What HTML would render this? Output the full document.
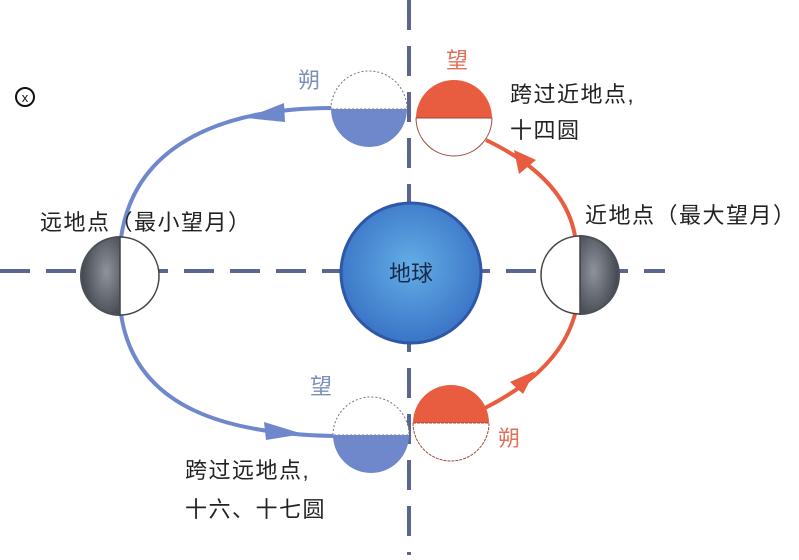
<!DOCTYPE html>
<html><head><meta charset="utf-8"><style>
html,body{margin:0;padding:0;background:#fff;}
svg text{font-family:"Liberation Sans","Noto Sans CJK SC",sans-serif;}
</style></head><body>
<svg width="799" height="555" viewBox="0 0 799 555" xmlns="http://www.w3.org/2000/svg">
<defs>
<radialGradient id="earth" cx="50%" cy="45%" r="55%">
<stop offset="0" stop-color="#63aee6"/><stop offset="1" stop-color="#3a74c6"/>
</radialGradient>
<radialGradient id="grayL" cx="65%" cy="45%" r="60%">
<stop offset="0" stop-color="#8e949c"/><stop offset="1" stop-color="#474c54"/>
</radialGradient>
<radialGradient id="grayR" cx="35%" cy="45%" r="60%">
<stop offset="0" stop-color="#8e949c"/><stop offset="1" stop-color="#474c54"/>
</radialGradient>
</defs>
<line x1="409" y1="0" x2="409" y2="555" stroke="#5a6590" stroke-width="4" stroke-dasharray="30,16"/>
<line x1="0" y1="271" x2="665" y2="271" stroke="#5a6590" stroke-width="4" stroke-dasharray="30,16"/>
<path d="M332,108 C230,108 135,140 121,238" fill="none" stroke="#6f88cc" stroke-width="4"/>
<path d="M121,314 C135,410 230,434 334,436" fill="none" stroke="#6f88cc" stroke-width="4"/>
<polygon points="246,118 284,103 285,122" fill="#6f88cc"/>
<polygon points="303,434 264,422 266,440" fill="#6f88cc"/>
<path d="M486,140 Q565,178 575,236" fill="none" stroke="#e85c3f" stroke-width="4"/>
<path d="M485,408 Q560,370 575,314" fill="none" stroke="#e85c3f" stroke-width="4"/>
<polygon points="514,150 519,174 536,160" fill="#e85c3f"/>
<polygon points="535,371 510,382 523,394" fill="#e85c3f"/>
<circle cx="411" cy="273" r="70" fill="url(#earth)" stroke="#2f57a8" stroke-width="3"/>
<text x="411" y="281" font-size="22" text-anchor="middle" fill="#1a2a4a">地球</text>
<path d="M331,109 A38,38 0 0 1 407,109 Z" fill="#fff" stroke="#777" stroke-width="1" stroke-dasharray="2,2"/>
<path d="M331,109 A38,38 0 0 0 407,109 Z" fill="#6f88cc"/>
<path d="M416,118 A38,38 0 0 1 492,118 Z" fill="#e85c3f"/>
<path d="M416,118 A38,38 0 0 0 492,118 Z" fill="#fff" stroke="#a0463a" stroke-width="1"/>
<path d="M333,435 A38,38 0 0 1 409,435 Z" fill="#fff" stroke="#777" stroke-width="1" stroke-dasharray="2,2"/>
<path d="M333,435 A38,38 0 0 0 409,435 Z" fill="#6f88cc"/>
<path d="M413,423 A38,38 0 0 1 489,423 Z" fill="#e85c3f"/>
<path d="M413,423 A38,38 0 0 0 489,423 Z" fill="#fff" stroke="#a0463a" stroke-width="1" stroke-dasharray="3,1"/>
<path d="M120,237 A39,39 0 0 0 120,315 Z" fill="url(#grayL)" stroke="#4a5058" stroke-width="2"/>
<path d="M120,237 A39,39 0 0 1 120,315 Z" fill="#fff" stroke="#444" stroke-width="1.5"/>
<path d="M580,236 A39,39 0 0 1 580,314 Z" fill="url(#grayR)" stroke="#4a5058" stroke-width="2"/>
<path d="M580,236 A39,39 0 0 0 580,314 Z" fill="#fff" stroke="#444" stroke-width="1.5"/>
<g letter-spacing="1.5">
<text x="298" y="88" font-size="22" fill="#7d8fbf">朔</text>
<text x="446" y="68" font-size="22" fill="#e0705a">望</text>
<text x="510" y="102" font-size="22" fill="#222">跨过近地点,</text>
<text x="510" y="138" font-size="22" fill="#222">十四圆</text>
<text x="40" y="230" font-size="22" fill="#222">远地点（最小望月）</text>
<text x="585" y="223" font-size="22" fill="#222">近地点（最大望月）</text>
<text x="310" y="394" font-size="22" fill="#7d8fbf">望</text>
<text x="498" y="446" font-size="22" fill="#e0705a">朔</text>
<text x="185" y="478" font-size="22" fill="#222">跨过远地点,</text>
<text x="185" y="517" font-size="22" fill="#222">十六、十七圆</text>
</g>
<circle cx="25" cy="97" r="9" fill="none" stroke="#111" stroke-width="2"/>
<text x="25" y="102" font-size="13" text-anchor="middle" fill="#111">x</text>
</svg>
</body></html>
